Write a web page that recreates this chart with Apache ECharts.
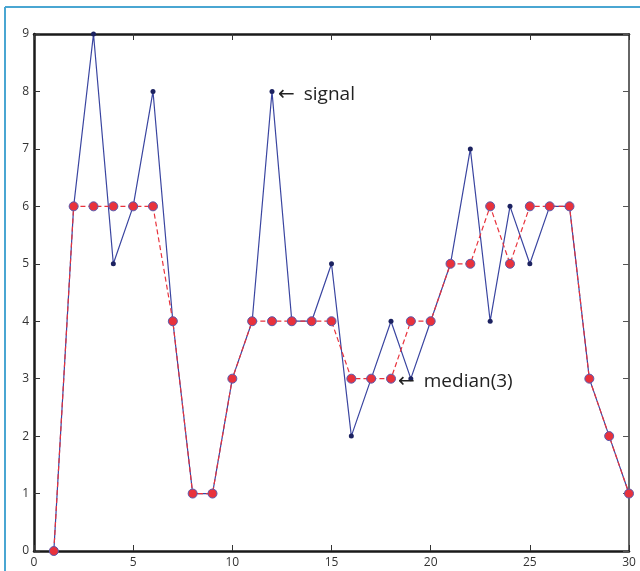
<!DOCTYPE html>
<html>
<head>
<meta charset="utf-8">
<script src="https://cdn.jsdelivr.net/npm/echarts@6/dist/echarts.min.js"></script>
<style>
html,body{margin:0;padding:0;background:#fff;}
#c{width:640px;height:571px;}
</style>
</head>
<body>
<div id="c"></div>
<script>
const xs = [1,2,3,4,5,6,7,8,9,10,11,12,13,14,15,16,17,18,19,20,21,22,23,24,25,26,27,28,29,30];
const signal = [0,6,9,5,6,8,4,1,1,3,4,8,4,4,5,2,3,4,3,4,5,7,4,6,5,6,6,3,2,1];
const median3 = [0,6,6,6,6,6,4,1,1,3,4,4,4,4,4,3,3,3,4,4,5,5,6,5,6,6,6,3,2,1];
const xTicks = [0,5,10,15,20,25,30];
const yTicks = [0,1,2,3,4,5,6,7,8,9];

const chart = echarts.init(document.getElementById('c'), null, {renderer:'canvas'});
const font = 'Open Sans';
const pair = (a) => xs.map((x,i)=>[x,a[i]]);
const annRich = {
  a:{fontFamily:'DejaVu Sans',fontSize:20,color:'#222',padding:[0,9,0,0]},
  t:{fontFamily:font,fontSize:19,color:'#222'}
};
chart.setOption({
  animation:false,
  backgroundColor:'#fff',
  grid:{left:34,right:11,top:34,bottom:20,containLabel:false},
  xAxis:[
    {type:'value',min:0,max:30,interval:5,position:'bottom',
     axisLine:{onZero:false,lineStyle:{color:'#1a1a1a',width:2.5}},
     axisTick:{inside:true,length:6,lineStyle:{color:'#333',width:1}},
     axisLabel:{color:'#333',fontSize:12,fontFamily:font,margin:6},
     splitLine:{show:false}},
    {type:'value',min:0,max:30,interval:5,position:'top',
     axisLine:{onZero:false,lineStyle:{color:'#1a1a1a',width:2.5}},
     axisTick:{inside:true,length:6,lineStyle:{color:'#333',width:1}},
     axisLabel:{show:false},splitLine:{show:false}}
  ],
  yAxis:[
    {type:'value',min:0,max:9,interval:1,position:'left',
     axisLine:{show:true,onZero:false,lineStyle:{color:'#1a1a1a',width:2.5}},
     axisTick:{show:true,inside:true,length:6,lineStyle:{color:'#333',width:1}},
     axisLabel:{color:'#333',fontSize:12,fontFamily:font,margin:5},
     splitLine:{show:false}},
    {type:'value',min:0,max:9,interval:1,position:'right',
     axisLine:{show:true,onZero:false,lineStyle:{color:'#333',width:1.5}},
     axisTick:{show:true,inside:true,length:6,lineStyle:{color:'#555',width:1}},
     axisLabel:{show:false},splitLine:{show:false}}
  ],
  series:[
    {name:'signal',type:'line',data:pair(signal),z:2,
     lineStyle:{color:'#3a45a0',width:1.2},
     symbol:'circle',symbolSize:5,
     itemStyle:{color:'#1c2260',borderWidth:0},
     markPoint:{symbol:'circle',symbolSize:0,silent:true,
       data:[{coord:[12,8],value:'',
         label:{show:true,position:'right',offset:[1,3],formatter:'{a|←}{t|signal}',rich:annRich}}]}},
    {name:'median(3)',type:'line',data:pair(median3),z:3,
     lineStyle:{color:'#e8323c',width:1.2,type:[5,3]},
     symbol:'circle',symbolSize:9,
     itemStyle:{color:'#e8323c',borderColor:'#5a5aae',borderWidth:1},
     markPoint:{symbol:'circle',symbolSize:0,silent:true,
       data:[{coord:[18,3],value:'',
         label:{show:true,position:'right',offset:[2,3],formatter:'{a|←}{t|median(3)}',rich:annRich}}]}}
  ],
  graphic:[
    {type:'line',shape:{x1:5,y1:7,x2:640,y2:7},style:{stroke:'#4aa6d2',lineWidth:2}},
    {type:'line',shape:{x1:5,y1:7,x2:5,y2:571},style:{stroke:'#4aa6d2',lineWidth:2}}
  ]
});
</script>
</body>
</html>
